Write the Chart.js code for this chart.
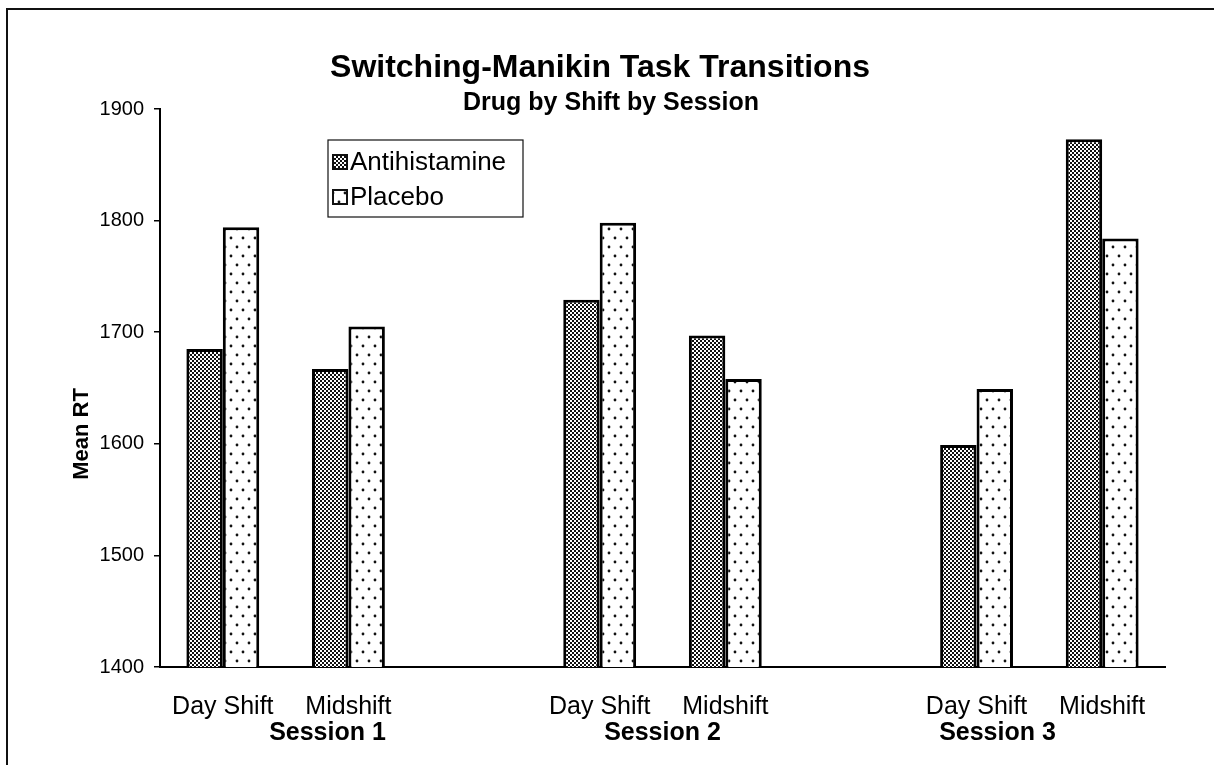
<!DOCTYPE html>
<html>
<head>
<meta charset="utf-8">
<script src="https://cdn.jsdelivr.net/npm/chart.js@4.4.1/dist/chart.umd.min.js"></script>
<style>
  html, body { margin: 0; padding: 0; background: #fff; }
  #wrap { width: 1214px; height: 765px; position: relative; }
</style>
</head>
<body>
<div id="wrap"><canvas id="chart" width="1214" height="765"></canvas></div>
<script>
/* DATA */
const shiftLabels = ["Day Shift", "Midshift", "", "Day Shift", "Midshift", "", "Day Shift", "Midshift"];
const sessionLabels = ["Session 1", "Session 2", "Session 3"];
const antihistamine = [1685, 1667, null, 1729, 1697, null, 1599, 1873];
const placebo = [1794, 1705, null, 1798, 1658, null, 1649, 1784];
const yTicks = [1400, 1500, 1600, 1700, 1800, 1900];

const FONT = "'Liberation Sans', Arial, Helvetica, sans-serif";

/* PATTERNS */
function densePattern() {
  const c = document.createElement("canvas");
  c.width = 4; c.height = 4;
  const g = c.getContext("2d");
  g.fillStyle = "#fff";
  g.fillRect(0, 0, 4, 4);
  g.fillStyle = "#111";
  g.fillRect(0, 0, 2, 2);
  g.fillRect(2, 2, 2, 2);
  g.fillRect(1, 1, 1, 1);
  return g.createPattern(c, "repeat");
}

function sparsePattern() {
  const c = document.createElement("canvas");
  c.width = 12; c.height = 18;
  const g = c.getContext("2d");
  g.fillStyle = "#fff";
  g.fillRect(0, 0, 12, 18);
  g.fillStyle = "#111";
  g.beginPath(); g.arc(3, 4, 1.4, 0, Math.PI * 2); g.fill();
  g.beginPath(); g.arc(9, 13, 1.4, 0, Math.PI * 2); g.fill();
  return g.createPattern(c, "repeat");
}

/* PLUGINS */
const decor = {
  id: "decor",
  afterDraw(chart) {
    const ctx = chart.ctx;
    ctx.save();

    // outer frame (top + left only)
    ctx.strokeStyle = "#111";
    ctx.lineWidth = 2;
    ctx.beginPath();
    ctx.moveTo(7, 765);
    ctx.lineTo(7, 9);
    ctx.lineTo(1214, 9);
    ctx.stroke();

    // titles
    ctx.fillStyle = "#000";
    ctx.textAlign = "center";
    ctx.textBaseline = "middle";
    ctx.font = "bold 32px " + FONT;
    ctx.fillText("Switching-Manikin Task Transitions", 600, 68);
    ctx.font = "bold 25px " + FONT;
    ctx.fillText("Drug by Shift by Session", 611, 103);

    // y title
    ctx.save();
    ctx.translate(82, 434);
    ctx.rotate(-Math.PI / 2);
    ctx.font = "bold 22px " + FONT;
    ctx.fillText("Mean RT", 0, 0);
    ctx.restore();

    // legend box
    const lx = 328, ly = 140, lw = 195, lh = 77;
    ctx.fillStyle = "#fff";
    ctx.fillRect(lx, ly, lw, lh);
    ctx.lineWidth = 1.2;
    ctx.strokeStyle = "#111";
    ctx.strokeRect(lx, ly, lw, lh);
    ctx.textAlign = "left";
    ctx.font = "26px " + FONT;
    chart.data.datasets.forEach((ds, i) => {
      const cy = ly + 22 + i * 35;
      ctx.fillStyle = ds.backgroundColor;
      ctx.fillRect(lx + 5, cy - 7, 14, 14);
      ctx.lineWidth = 2;
      ctx.strokeRect(lx + 5, cy - 7, 14, 14);
      ctx.fillStyle = "#000";
      ctx.fillText(ds.label, lx + 22, cy + 1);
    });

    ctx.restore();
  }
};

/* CHART */
const ctx = document.getElementById("chart");

new Chart(ctx, {
  type: "bar",
  data: {
    labels: shiftLabels,
    datasets: [
      {
        label: "Antihistamine",
        data: antihistamine,
        backgroundColor: densePattern(),
        borderColor: "#000",
        borderWidth: 3,
        borderSkipped: "bottom"
      },
      {
        label: "Placebo",
        data: placebo,
        backgroundColor: sparsePattern(),
        borderColor: "#000",
        borderWidth: 3,
        borderSkipped: "bottom"
      }
    ]
  },
  options: {
    responsive: false,
    animation: false,
    events: [],
    layout: { padding: { top: 109, right: 49, bottom: 15, left: 0 } },
    datasets: { bar: { barPercentage: 1, categoryPercentage: 0.58 } },
    plugins: {
      legend: { display: false },
      title: { display: false },
      tooltip: { enabled: false }
    },
    scales: {
      x: {
        type: "category",
        position: "bottom",
        offset: true,
        weight: 0,
        grid: { display: false, offset: true },
        border: { display: true, color: "#000", width: 2 },
        ticks: {
          color: "#000",
          font: { family: FONT, size: 25 },
          padding: 17,
          maxRotation: 0,
          autoSkip: false
        },
        afterFit: s => { s.height = 53; }
      },
      session: {
        type: "category",
        labels: sessionLabels,
        position: "bottom",
        offset: true,
        weight: 1,
        grid: { display: false },
        border: { display: false },
        ticks: {
          color: "#000",
          font: { family: FONT, size: 25, weight: "bold" },
          padding: -10,
          maxRotation: 0,
          autoSkip: false
        },
        afterFit: s => { s.height = 30; }
      },
      y: {
        min: 1400,
        max: 1900,
        afterBuildTicks: s => { s.ticks = yTicks.map(v => ({ value: v })); },
        grid: {
          display: true,
          drawOnChartArea: false,
          drawTicks: true,
          tickLength: 6,
          color: "#000",
          lineWidth: 1.5
        },
        border: { display: true, color: "#000", width: 2 },
        ticks: {
          color: "#000",
          font: { family: FONT, size: 20 },
          padding: 10,
          callback: v => String(v)
        },
        afterFit: s => { s.width = 160; }
      }
    }
  },
  plugins: [decor]
});
</script>
</body>
</html>
